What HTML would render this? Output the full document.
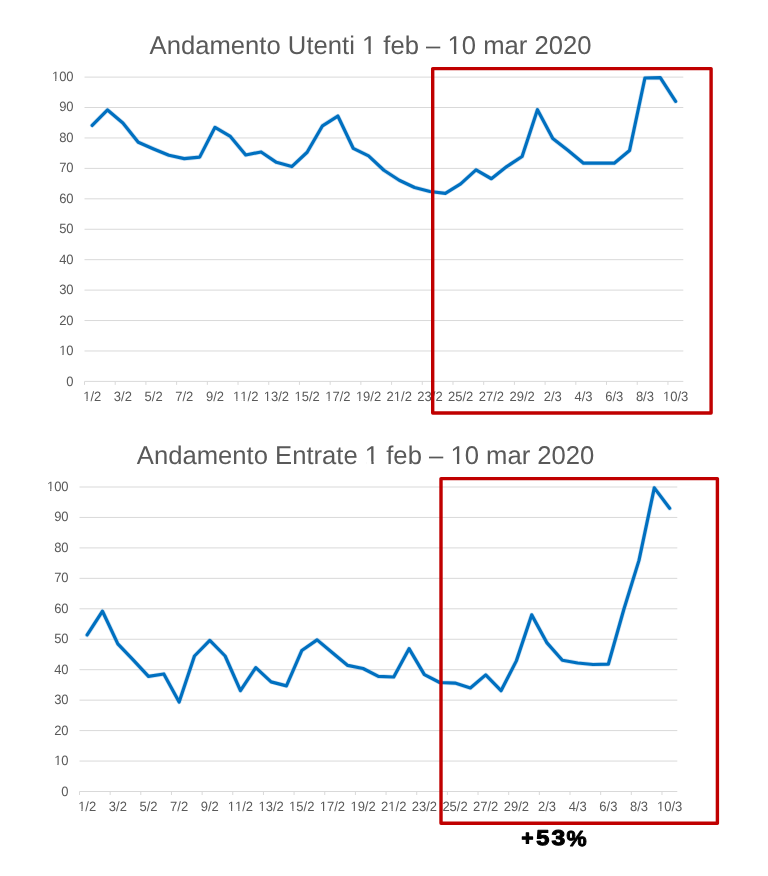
<!DOCTYPE html>
<html lang="it"><head><meta charset="utf-8"><title>Andamento Utenti e Entrate 1 feb – 10 mar 2020</title><style>html,body{margin:0;padding:0;background:#fff;width:768px;height:876px;overflow:hidden}svg{display:block;will-change:transform}text{font-family:"Liberation Sans",sans-serif;text-rendering:geometricPrecision;font-kerning:none}</style></head><body>
<svg width="768" height="876" viewBox="0 0 768 876">
<path d="M84.50 350.97H683.30M84.50 320.54H683.30M84.50 290.11H683.30M84.50 259.68H683.30M84.50 229.25H683.30M84.50 198.82H683.30M84.50 168.39H683.30M84.50 137.96H683.30M84.50 107.53H683.30M84.50 77.10H683.30M84.50 381.40H683.30M84.50 381.40v3.5M115.21 381.40v3.5M145.92 381.40v3.5M176.62 381.40v3.5M207.33 381.40v3.5M238.04 381.40v3.5M268.75 381.40v3.5M299.45 381.40v3.5M330.16 381.40v3.5M360.87 381.40v3.5M391.58 381.40v3.5M422.28 381.40v3.5M452.99 381.40v3.5M483.70 381.40v3.5M514.41 381.40v3.5M545.12 381.40v3.5M575.82 381.40v3.5M606.53 381.40v3.5M637.24 381.40v3.5M667.95 381.40v3.5" stroke="#D9D9D9" stroke-width="1" fill="none"/>
<text x="149.6" y="53.7" fill="#595959" font-size="25.65">Andamento Utenti 1 feb – 10 mar 2020</text>
<g fill="#595959" font-size="13.0" text-anchor="end"><text transform="translate(73.60 385.70) scale(1 1.0405)">0</text><text transform="translate(73.60 355.20) scale(1 1.0405)">10</text><text transform="translate(73.60 324.70) scale(1 1.0405)">20</text><text transform="translate(73.60 294.20) scale(1 1.0405)">30</text><text transform="translate(73.60 263.70) scale(1 1.0405)">40</text><text transform="translate(73.60 233.20) scale(1 1.0405)">50</text><text transform="translate(73.60 202.70) scale(1 1.0405)">60</text><text transform="translate(73.60 172.20) scale(1 1.0405)">70</text><text transform="translate(73.60 141.70) scale(1 1.0405)">80</text><text transform="translate(73.60 111.20) scale(1 1.0405)">90</text><text transform="translate(73.60 80.70) scale(1 1.0405)">100</text></g>
<g fill="#595959" font-size="13.0" text-anchor="middle"><text transform="translate(92.18 400.60) scale(1 1.0405)">1/2</text><text transform="translate(122.88 400.60) scale(1 1.0405)">3/2</text><text transform="translate(153.59 400.60) scale(1 1.0405)">5/2</text><text transform="translate(184.30 400.60) scale(1 1.0405)">7/2</text><text transform="translate(215.01 400.60) scale(1 1.0405)">9/2</text><text transform="translate(245.72 400.60) scale(1 1.0405)">11/2</text><text transform="translate(276.42 400.60) scale(1 1.0405)">13/2</text><text transform="translate(307.13 400.60) scale(1 1.0405)">15/2</text><text transform="translate(337.84 400.60) scale(1 1.0405)">17/2</text><text transform="translate(368.55 400.60) scale(1 1.0405)">19/2</text><text transform="translate(399.25 400.60) scale(1 1.0405)">21/2</text><text transform="translate(429.96 400.60) scale(1 1.0405)">23/2</text><text transform="translate(460.67 400.60) scale(1 1.0405)">25/2</text><text transform="translate(491.38 400.60) scale(1 1.0405)">27/2</text><text transform="translate(522.08 400.60) scale(1 1.0405)">29/2</text><text transform="translate(552.79 400.60) scale(1 1.0405)">2/3</text><text transform="translate(583.50 400.60) scale(1 1.0405)">4/3</text><text transform="translate(614.21 400.60) scale(1 1.0405)">6/3</text><text transform="translate(644.92 400.60) scale(1 1.0405)">8/3</text><text transform="translate(675.62 400.60) scale(1 1.0405)">10/3</text></g>
<g fill="#fff"><rect x="363.23" y="51.53" width="5.27" height="3.07"/><rect x="370.77" y="51.53" width="5.07" height="3.07"/><rect x="448.80" y="51.53" width="5.27" height="3.07"/><rect x="456.34" y="51.53" width="4.72" height="3.07"/><rect x="59.39" y="353.94" width="3.02" height="2.16"/><rect x="63.56" y="353.94" width="2.57" height="2.16"/><rect x="52.16" y="79.44" width="3.02" height="2.16"/><rect x="56.33" y="79.44" width="2.57" height="2.16"/><rect x="83.39" y="399.34" width="3.02" height="2.16"/><rect x="87.56" y="399.34" width="2.57" height="2.16"/><rect x="233.32" y="399.34" width="3.02" height="2.16"/><rect x="237.48" y="399.34" width="2.57" height="2.16"/><rect x="241.10" y="399.34" width="2.47" height="2.16"/><rect x="244.71" y="399.34" width="2.57" height="2.16"/><rect x="264.02" y="399.34" width="3.02" height="2.16"/><rect x="268.19" y="399.34" width="2.57" height="2.16"/><rect x="294.73" y="399.34" width="3.02" height="2.16"/><rect x="298.90" y="399.34" width="2.57" height="2.16"/><rect x="325.44" y="399.34" width="3.02" height="2.16"/><rect x="329.61" y="399.34" width="2.57" height="2.16"/><rect x="356.15" y="399.34" width="3.02" height="2.16"/><rect x="360.31" y="399.34" width="2.57" height="2.16"/><rect x="394.64" y="399.34" width="2.47" height="2.16"/><rect x="398.25" y="399.34" width="2.57" height="2.16"/><rect x="663.22" y="399.34" width="3.02" height="2.16"/><rect x="667.39" y="399.34" width="2.57" height="2.16"/></g>
<polyline points="92.18,125.48 107.53,109.96 122.88,123.05 138.24,142.22 153.59,148.91 168.95,155.31 184.30,158.65 199.65,157.13 215.01,127.31 230.36,136.44 245.72,155.00 261.07,151.96 276.42,162.30 291.78,166.56 307.13,152.26 322.48,125.79 337.84,116.05 353.19,148.31 368.55,155.91 383.90,170.22 399.25,180.26 414.61,187.56 429.96,191.52 445.32,193.34 460.67,183.91 476.02,169.91 491.38,178.74 506.73,166.56 522.08,156.52 537.44,109.66 552.79,138.57 568.15,150.44 583.50,163.22 598.85,163.22 614.21,163.22 629.56,150.44 644.92,78.01 660.27,77.71 675.62,101.44" fill="none" stroke="#0070C0" stroke-opacity="0.2" stroke-width="4.6" stroke-linejoin="round" stroke-linecap="round"/>
<polyline points="92.18,125.48 107.53,109.96 122.88,123.05 138.24,142.22 153.59,148.91 168.95,155.31 184.30,158.65 199.65,157.13 215.01,127.31 230.36,136.44 245.72,155.00 261.07,151.96 276.42,162.30 291.78,166.56 307.13,152.26 322.48,125.79 337.84,116.05 353.19,148.31 368.55,155.91 383.90,170.22 399.25,180.26 414.61,187.56 429.96,191.52 445.32,193.34 460.67,183.91 476.02,169.91 491.38,178.74 506.73,166.56 522.08,156.52 537.44,109.66 552.79,138.57 568.15,150.44 583.50,163.22 598.85,163.22 614.21,163.22 629.56,150.44 644.92,78.01 660.27,77.71 675.62,101.44" fill="none" stroke="#0070C0" stroke-width="3.2" stroke-linejoin="round" stroke-linecap="round"/>
<rect x="432.7" y="68.6" width="278.40" height="344.40" fill="none" stroke="#C00000" stroke-width="3.4" stroke-linejoin="round"/>
<path d="M79.50 761.05H677.30M79.50 730.60H677.30M79.50 700.15H677.30M79.50 669.70H677.30M79.50 639.25H677.30M79.50 608.80H677.30M79.50 578.35H677.30M79.50 547.90H677.30M79.50 517.45H677.30M79.50 487.00H677.30M79.50 791.50H677.30M79.50 791.50v3.5M110.16 791.50v3.5M140.81 791.50v3.5M171.47 791.50v3.5M202.13 791.50v3.5M232.78 791.50v3.5M263.44 791.50v3.5M294.09 791.50v3.5M324.75 791.50v3.5M355.41 791.50v3.5M386.06 791.50v3.5M416.72 791.50v3.5M447.38 791.50v3.5M478.03 791.50v3.5M508.69 791.50v3.5M539.35 791.50v3.5M570.00 791.50v3.5M600.66 791.50v3.5M631.32 791.50v3.5M661.97 791.50v3.5" stroke="#D9D9D9" stroke-width="1" fill="none"/>
<text x="136.8" y="463.7" fill="#595959" font-size="25.65">Andamento Entrate 1 feb – 10 mar 2020</text>
<g fill="#595959" font-size="13.0" text-anchor="end"><text transform="translate(68.60 795.80) scale(1 1.0405)">0</text><text transform="translate(68.60 765.28) scale(1 1.0405)">10</text><text transform="translate(68.60 734.76) scale(1 1.0405)">20</text><text transform="translate(68.60 704.24) scale(1 1.0405)">30</text><text transform="translate(68.60 673.72) scale(1 1.0405)">40</text><text transform="translate(68.60 643.20) scale(1 1.0405)">50</text><text transform="translate(68.60 612.68) scale(1 1.0405)">60</text><text transform="translate(68.60 582.16) scale(1 1.0405)">70</text><text transform="translate(68.60 551.64) scale(1 1.0405)">80</text><text transform="translate(68.60 521.12) scale(1 1.0405)">90</text><text transform="translate(68.60 490.60) scale(1 1.0405)">100</text></g>
<g fill="#595959" font-size="13.0" text-anchor="middle"><text transform="translate(87.16 810.70) scale(1 1.0405)">1/2</text><text transform="translate(117.82 810.70) scale(1 1.0405)">3/2</text><text transform="translate(148.48 810.70) scale(1 1.0405)">5/2</text><text transform="translate(179.13 810.70) scale(1 1.0405)">7/2</text><text transform="translate(209.79 810.70) scale(1 1.0405)">9/2</text><text transform="translate(240.45 810.70) scale(1 1.0405)">11/2</text><text transform="translate(271.10 810.70) scale(1 1.0405)">13/2</text><text transform="translate(301.76 810.70) scale(1 1.0405)">15/2</text><text transform="translate(332.42 810.70) scale(1 1.0405)">17/2</text><text transform="translate(363.07 810.70) scale(1 1.0405)">19/2</text><text transform="translate(393.73 810.70) scale(1 1.0405)">21/2</text><text transform="translate(424.38 810.70) scale(1 1.0405)">23/2</text><text transform="translate(455.04 810.70) scale(1 1.0405)">25/2</text><text transform="translate(485.70 810.70) scale(1 1.0405)">27/2</text><text transform="translate(516.35 810.70) scale(1 1.0405)">29/2</text><text transform="translate(547.01 810.70) scale(1 1.0405)">2/3</text><text transform="translate(577.67 810.70) scale(1 1.0405)">4/3</text><text transform="translate(608.32 810.70) scale(1 1.0405)">6/3</text><text transform="translate(638.98 810.70) scale(1 1.0405)">8/3</text><text transform="translate(669.64 810.70) scale(1 1.0405)">10/3</text></g>
<g fill="#fff"><rect x="366.12" y="461.53" width="5.27" height="3.07"/><rect x="373.66" y="461.53" width="5.07" height="3.07"/><rect x="451.69" y="461.53" width="5.27" height="3.07"/><rect x="459.23" y="461.53" width="4.72" height="3.07"/><rect x="54.39" y="764.02" width="3.02" height="2.16"/><rect x="58.56" y="764.02" width="2.57" height="2.16"/><rect x="47.16" y="489.34" width="3.02" height="2.16"/><rect x="51.33" y="489.34" width="2.57" height="2.16"/><rect x="78.38" y="809.44" width="3.02" height="2.16"/><rect x="82.55" y="809.44" width="2.57" height="2.16"/><rect x="228.05" y="809.44" width="3.02" height="2.16"/><rect x="232.21" y="809.44" width="2.57" height="2.16"/><rect x="235.83" y="809.44" width="2.47" height="2.16"/><rect x="239.44" y="809.44" width="2.57" height="2.16"/><rect x="258.70" y="809.44" width="3.02" height="2.16"/><rect x="262.87" y="809.44" width="2.57" height="2.16"/><rect x="289.36" y="809.44" width="3.02" height="2.16"/><rect x="293.53" y="809.44" width="2.57" height="2.16"/><rect x="320.02" y="809.44" width="3.02" height="2.16"/><rect x="324.18" y="809.44" width="2.57" height="2.16"/><rect x="350.67" y="809.44" width="3.02" height="2.16"/><rect x="354.84" y="809.44" width="2.57" height="2.16"/><rect x="389.11" y="809.44" width="2.47" height="2.16"/><rect x="392.73" y="809.44" width="2.57" height="2.16"/><rect x="657.24" y="809.44" width="3.02" height="2.16"/><rect x="661.40" y="809.44" width="2.57" height="2.16"/></g>
<polyline points="87.16,634.99 102.49,611.24 117.82,643.82 133.15,659.96 148.48,676.40 163.81,673.96 179.13,701.98 194.46,656.00 209.79,640.47 225.12,656.00 240.45,690.71 255.77,667.57 271.10,681.88 286.43,685.84 301.76,650.52 317.09,639.86 332.42,652.65 347.74,665.44 363.07,668.48 378.40,676.40 393.73,677.01 409.06,648.69 424.38,674.57 439.71,682.49 455.04,683.10 470.37,687.97 485.70,674.88 501.03,690.71 516.35,660.87 531.68,614.89 547.01,642.90 562.34,660.26 577.67,663.00 592.99,664.52 608.32,664.22 623.65,610.02 638.98,560.38 654.31,487.91 669.64,508.31" fill="none" stroke="#0070C0" stroke-opacity="0.2" stroke-width="4.6" stroke-linejoin="round" stroke-linecap="round"/>
<polyline points="87.16,634.99 102.49,611.24 117.82,643.82 133.15,659.96 148.48,676.40 163.81,673.96 179.13,701.98 194.46,656.00 209.79,640.47 225.12,656.00 240.45,690.71 255.77,667.57 271.10,681.88 286.43,685.84 301.76,650.52 317.09,639.86 332.42,652.65 347.74,665.44 363.07,668.48 378.40,676.40 393.73,677.01 409.06,648.69 424.38,674.57 439.71,682.49 455.04,683.10 470.37,687.97 485.70,674.88 501.03,690.71 516.35,660.87 531.68,614.89 547.01,642.90 562.34,660.26 577.67,663.00 592.99,664.52 608.32,664.22 623.65,610.02 638.98,560.38 654.31,487.91 669.64,508.31" fill="none" stroke="#0070C0" stroke-width="3.2" stroke-linejoin="round" stroke-linecap="round"/>
<rect x="441.0" y="478.6" width="276.40" height="344.60" fill="none" stroke="#C00000" stroke-width="3.4" stroke-linejoin="round"/>
<g fill="#000" stroke="#000" stroke-linejoin="round" font-size="100" font-weight="bold"><text transform="translate(521.55 844.63) scale(0.2034 0.2068)" stroke-width="5.96">+</text><text transform="translate(536.18 845.19) scale(0.2351 0.2135)" stroke-width="5.11">5</text><text transform="translate(551.43 845.16) scale(0.2474 0.2128)" stroke-width="5.11">3</text><text transform="translate(566.44 845.63) scale(0.2268 0.2174)" stroke-width="4.26">%</text></g>
</svg></body></html>
